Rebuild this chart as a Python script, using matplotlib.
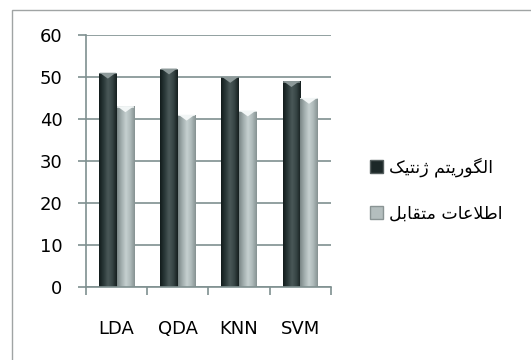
import numpy as np
import matplotlib
matplotlib.use("Agg")
import matplotlib.pyplot as plt
from matplotlib.colors import LinearSegmentedColormap
from matplotlib.patches import Patch, Polygon, Rectangle

plt.rcParams['font.family'] = ['DejaVu Sans']

methods = ["LDA", "QDA", "KNN", "SVM"]
genetic = [51, 52, 50, 49]
mutual_info = [43, 41, 42, 45]
# Persian labels in presentation forms, visual order (matplotlib has no bidi shaping)
series_names = [
    "\uFB8F\uFBFF\uFE98\uFEE7\uFB8A \uFEE2\uFE98\uFBFE\uFEAD\uFEEE\uFB95\uFEDF\uFE8D",
    "\uFEDE\uFE91\uFE8E\uFED8\uFE98\uFEE3 \uFE95\uFE8E\uFECB\uFEFC\uFEC3\uFE8D",
]
y_ticks = [0, 10, 20, 30, 40, 50, 60]

grid_col = "#7f9090"
dark_cmap = LinearSegmentedColormap.from_list(
    "dark", ["#121c1c", "#2a3838", "#4a5858", "#374545", "#161f1f"])
light_cmap = LinearSegmentedColormap.from_list(
    "light", ["#7a8686", "#a2aeae", "#c6d0d0", "#aebaba", "#869292"])

fig = plt.figure(figsize=(5.31, 3.6), dpi=100)
ax = fig.add_axes([0.162, 0.203, 0.461, 0.700])

# outer chart frame
fig.add_artist(Rectangle((0.023, -0.05), 1.2, 1.022, transform=fig.transFigure,
                         fill=False, edgecolor="#a0a4a4", linewidth=1.0))

x = np.arange(len(methods))
w = 0.287
b1 = ax.bar(x - w / 2, genetic, w, color="#2c3a3a", zorder=3)
b2 = ax.bar(x + w / 2, mutual_info, w, color="#a4b0b0", zorder=3)

grad = np.linspace(0, 1, 64).reshape(1, -1)
for bars, cmap, cap in ((b1, dark_cmap, "#8e9a9a"), (b2, light_cmap, "#f2f6f6")):
    for p in bars:
        x0, bw, h = p.get_x(), p.get_width(), p.get_height()
        im = ax.imshow(grad, cmap=cmap, extent=(x0, x0 + bw, 0, h),
                       aspect="auto", zorder=3.5, interpolation="bilinear")
        im.set_clip_path(p)
        ax.add_patch(Polygon([(x0 + 0.01, h), (x0 + bw - 0.01, h), (x0 + bw / 2, h - 1.4)],
                             closed=True, facecolor=cap, edgecolor="none", zorder=4))
        ax.add_patch(Rectangle((x0, h - 0.35), bw, 0.35, facecolor=cap,
                               edgecolor="none", alpha=0.7, zorder=4))

ax.set_xlim(-0.5, len(methods) - 0.5)
ax.set_ylim(0, 60)
ax.set_yticks(y_ticks)
ax.set_xticks(x)
ax.set_xticklabels(methods, fontsize=13)
ax.set_xticks(np.arange(-0.5, len(methods)), minor=True)
ax.tick_params(axis="x", which="major", length=0, pad=24)
ax.tick_params(axis="x", which="minor", length=6, width=1.2, color=grid_col, direction="out")
ax.tick_params(axis="y", length=6, width=1.2, color=grid_col, pad=11, labelsize=13)
ax.yaxis.grid(True, color=grid_col, linewidth=1.2, zorder=0)
ax.set_axisbelow(True)
for s in ("top", "right"):
    ax.spines[s].set_visible(False)
for s in ("left", "bottom"):
    ax.spines[s].set_color(grid_col)
    ax.spines[s].set_linewidth(1.2)
ax.spines["bottom"].set_zorder(5)

handles = [Patch(facecolor="#1c2828", edgecolor="#555f5f"),
           Patch(facecolor="#b4bebe", edgecolor="#8a9494")]
fig.legend(handles, series_names, loc="center left", bbox_to_anchor=(0.668, 0.472),
           frameon=False, prop={"family": "DejaVu Sans", "size": 12.5},
           handlelength=0.75, handleheight=0.75, handletextpad=0.35, labelspacing=1.6)

fig.savefig("out.png", dpi=100)
